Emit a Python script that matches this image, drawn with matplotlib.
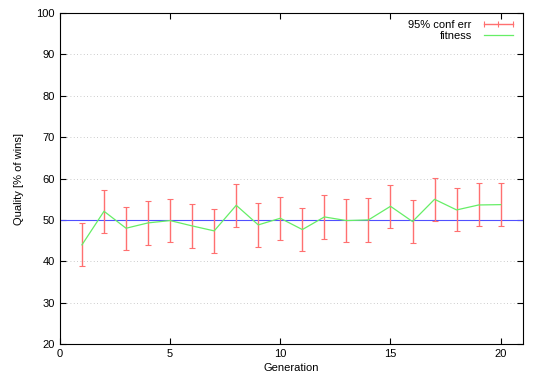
import matplotlib
matplotlib.use("Agg")
import matplotlib.pyplot as plt
from matplotlib.lines import Line2D

plt.rcParams['font.family'] = ['Liberation Sans', 'DejaVu Sans']

# values
generations = list(range(1, 21))
fitness = [43.98, 52.09, 47.99, 49.28, 49.84, 48.55, 47.35, 53.53, 48.8, 50.4,
           47.67, 50.72, 49.84, 50.0, 53.29, 49.6, 54.98, 52.41, 53.61, 53.69]
conf_err = [5.2, 5.25, 5.15, 5.25, 5.2, 5.3, 5.25, 5.2, 5.3, 5.25,
            5.25, 5.3, 5.25, 5.25, 5.25, 5.2, 5.2, 5.2, 5.2, 5.2]
baseline = 50

err_color = '#ff7070'
fit_color = '#66ee66'

fig = plt.figure(figsize=(5.4, 3.79), dpi=100)
ax = fig.add_axes([0.111, 0.092, 0.857, 0.874])
ax.set_axisbelow(True)

ax.axhline(baseline, color='#5050ff', lw=0.8, zorder=1.5)
ax.errorbar(generations, fitness, yerr=conf_err, fmt='none', ecolor=err_color,
            elinewidth=1.0, capsize=2, capthick=0.8, zorder=2)
ax.plot(generations, fitness, color=fit_color, lw=0.9, zorder=3)

ax.set_xlim(0, 21)
ax.set_ylim(20, 100)
ax.set_xticks([0, 5, 10, 15, 20])
ax.set_yticks(range(20, 101, 10))
ax.yaxis.grid(True, linestyle=(0, (1, 3)), color='#bbbbbb', lw=0.6)
ax.tick_params(direction='in', top=True, right=True, labelsize=8, length=4, width=0.8)
for s in ax.spines.values():
    s.set_linewidth(0.8)

ax.set_xlabel('Generation', fontsize=8, labelpad=3)
ax.set_ylabel('Quality [% of wins]', fontsize=8, labelpad=9)

handles = [
    Line2D([], [], color=err_color, lw=1.0, marker='|', markersize=5, markeredgewidth=0.8),
    Line2D([], [], color=fit_color, lw=0.9),
]
ax.legend(handles, ['95% conf err', 'fitness'], loc='upper right', frameon=False,
          markerfirst=False, fontsize=8, numpoints=3, handlelength=3.2,
          borderaxespad=0.2, labelspacing=0.1)

fig.savefig('out.png', dpi=100)
